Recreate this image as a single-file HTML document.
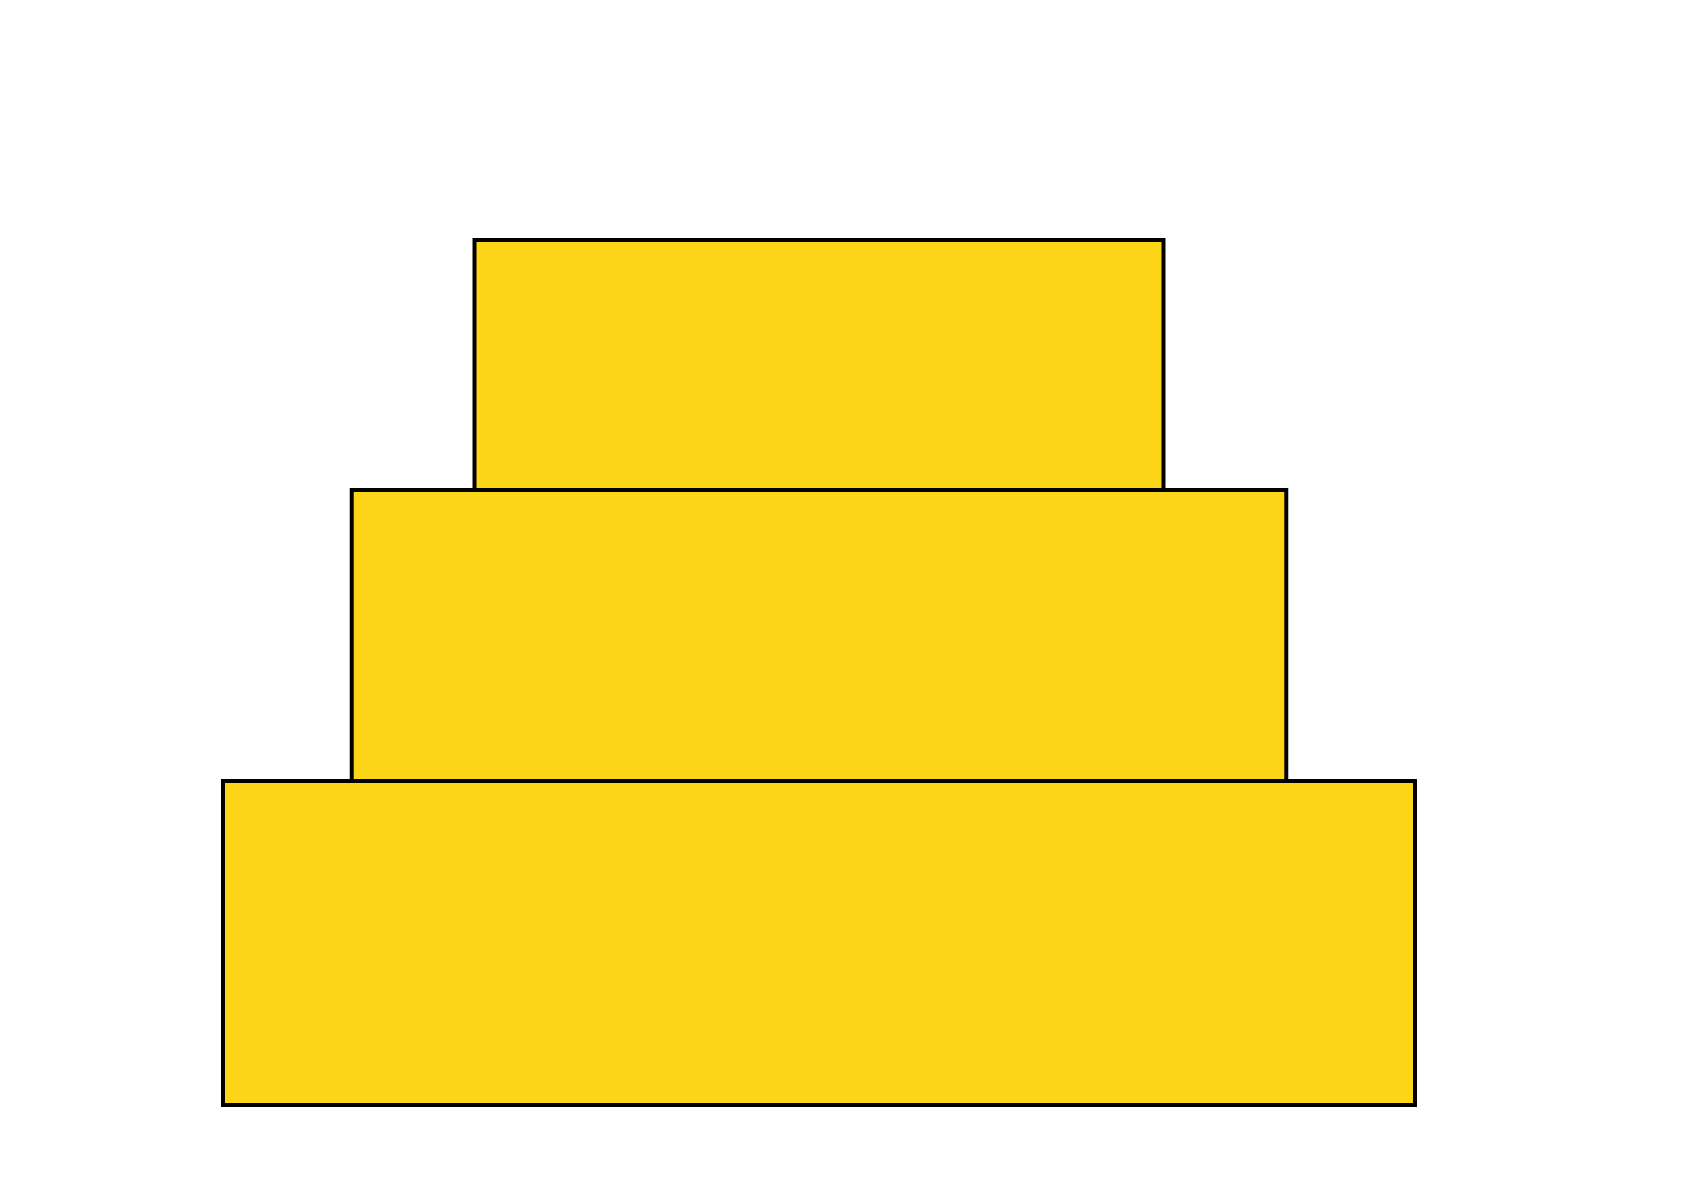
<!DOCTYPE html>
<html><head><meta charset="utf-8"><style>html,body{margin:0;padding:0;background:#fff}svg{display:block}</style></head>
<body>
<svg id="chart" width="1700" height="1200" viewBox="0 0 1700 1200" xmlns="http://www.w3.org/2000/svg">
<g id="tiers"></g>
</svg>
<script>
const categories = ["bottom", "middle", "top"];
const widthValues = [100, 78.4, 57.8];
const heightValues = [324, 291, 250];
const centerX = 819, baseY = 1105, pxPerUnit = 11.92;
function xScale(v){ return v * pxPerUnit; }
function hScale(v){ return v; }
const g = document.getElementById('tiers');
let y = baseY;
for (let i = 0; i < categories.length; i++) {
  const w = xScale(widthValues[i]);
  const h = hScale(heightValues[i]);
  y -= h;
  const r = document.createElementNS('http://www.w3.org/2000/svg','rect');
  r.setAttribute('x', centerX - w/2);
  r.setAttribute('y', y);
  r.setAttribute('width', w);
  r.setAttribute('height', h);
  r.setAttribute('fill', '#FDD517');
  r.setAttribute('stroke', '#000');
  r.setAttribute('stroke-width', '4');
  
  
  g.appendChild(r);
}
</script>
</body></html>
